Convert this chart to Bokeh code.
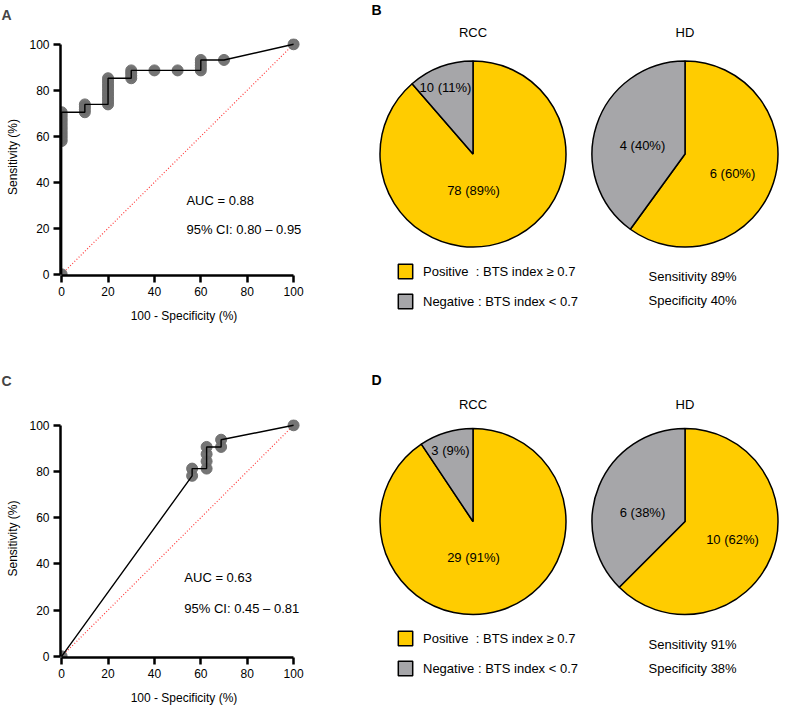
import math
from bokeh.plotting import figure
from bokeh.models import Range1d, FixedTicker, Label, Legend, LegendItem, ColumnDataSource
from bokeh.layouts import row, column
from bokeh.embed import file_html
from bokeh.resources import INLINE
from bokeh.core.properties import value

# ---------------- data ----------------
roc_ticks = [0, 20, 40, 60, 80, 100]

# Panel A: ROC (100 - specificity, sensitivity), RCC n=88 vs HD n=10
roc_a_fpr = [0, 0, 0, 0, 0, 0, 0, 0, 0, 0, 0, 0, 0,
             10, 10, 10, 10,
             20, 20, 20, 20, 20, 20, 20, 20, 20, 20, 20,
             30, 30, 30, 30,
             40, 50,
             60, 60, 60, 60, 60,
             70, 100]
roc_a_sens = [0, 57.95, 59.09, 60.23, 61.36, 62.50, 63.64, 64.77, 65.91, 67.05, 68.18, 69.32, 70.45,
              70.45, 71.59, 72.73, 73.86,
              73.86, 75.00, 76.14, 77.27, 78.41, 79.55, 80.68, 81.82, 82.95, 84.09, 85.23,
              85.23, 86.36, 87.50, 88.64,
              88.64, 88.64,
              88.64, 89.77, 90.91, 92.05, 93.18,
              93.18, 100]
roc_a_auc = "AUC = 0.88"
roc_a_ci = "95% CI: 0.80 \u2013 0.95"

# Panel C: ROC, RCC n=32 vs HD n=16
roc_c_fpr = [0, 56.25, 56.25, 62.5, 62.5, 62.5, 62.5, 68.75, 68.75, 100]
roc_c_sens = [0, 78.13, 81.25, 81.25, 84.38, 87.50, 90.63, 90.63, 93.75, 100]
roc_c_auc = "AUC = 0.63"
roc_c_ci = "95% CI: 0.45 \u2013 0.81"

groups = ["RCC", "HD"]
b_positive = [78, 6]
b_negative = [10, 4]
d_positive = [29, 10]
d_negative = [3, 6]
legend_labels = ["Positive  : BTS index \u2265 0.7", "Negative : BTS index < 0.7"]

# ---------------- style / layout ----------------
FONT = "Liberation Sans"
YELLOW = "#FFCC00"
GREY = "#A6A6A9"
PT = "#6e6e6e"
W_L, W_R = 370, 417
H_T, H_B = 340, 367
XMIN, XMAX = -0.5, 106.0
YMIN, YMAX = -0.5, 102.5
FRAME_W = 247
FRAME_H = 239
LEFT = 60
TXT = "13px"


def roc_panel(fpr, sens, auc_txt, ci_txt, letter, height, top_border, letter_gap, auc_xy):
    p = figure(width=W_L, height=height,
               x_range=Range1d(XMIN, XMAX), y_range=Range1d(YMIN, YMAX),
               output_backend="svg", toolbar_location=None,
               min_border_left=LEFT, min_border_right=W_L - LEFT - FRAME_W,
               min_border_top=top_border, min_border_bottom=height - top_border - FRAME_H)
    p.grid.visible = False
    p.outline_line_color = None
    p.title.text = letter + "\n "
    p.title.text_font = FONT
    p.title.text_font_size = "14px"
    p.title.text_font_style = "bold"
    p.title.text_line_height = letter_gap
    p.title.align = "left"
    p.title.offset = -(LEFT - 1)
    p.line([0, 100], [0, 100], line_color="#ff3b3b", line_dash="1 2", line_width=1.2)
    p.scatter(fpr, sens, size=11, fill_color=PT, line_color=PT, fill_alpha=0.95, line_alpha=0.95)
    p.line(fpr, sens, line_color="black", line_width=1.4)
    for ax in (p.xaxis[0], p.yaxis[0]):
        ax.bounds = (0, 100)
        ax.ticker = FixedTicker(ticks=roc_ticks)
        ax.axis_line_width = 2.5
        ax.axis_line_color = "black"
        ax.major_tick_line_width = 2.5
        ax.major_tick_line_color = "black"
        ax.major_tick_out = 7
        ax.major_tick_in = 0
        ax.minor_tick_line_color = None
        ax.major_label_text_font = FONT
        ax.major_label_text_font_size = "12px"
        ax.major_label_text_color = "black"
        ax.major_label_standoff = 4
        ax.axis_label_text_font = FONT
        ax.axis_label_text_font_size = "12px"
        ax.axis_label_text_font_style = "normal"
        ax.axis_label_text_color = "black"
    p.xaxis[0].axis_label = "100 - Specificity (%)"
    p.xaxis[0].axis_label_standoff = 10
    p.yaxis[0].axis_label = "Sensitivity (%)"
    p.yaxis[0].axis_label_standoff = 6
    for txt, yy in ((auc_txt, auc_xy[1]), (ci_txt, auc_xy[2])):
        p.add_layout(Label(x=auc_xy[0], y=yy, text=txt, text_font=FONT, text_font_size=TXT,
                           text_color="black", text_baseline="middle", text_align="left"))
    return p


def pie_panel(pos, neg, letter, height, cy, title_y, sens_y, spec_y, legend_y, label_xy, letter_y):
    p = figure(width=W_R, height=height, x_range=Range1d(0, W_R), y_range=Range1d(0, height),
               output_backend="svg", toolbar_location=None, min_border=0,
               x_axis_type=None, y_axis_type=None)
    p.grid.visible = False
    p.outline_line_color = None
    cx = [102.5, 314.5]
    tot = [a + b for a, b in zip(pos, neg)]
    neg_end = [math.pi / 2 + 2 * math.pi * n / t for n, t in zip(neg, tot)]
    src_neg = ColumnDataSource(dict(x=cx, y=[cy, cy], s=[math.pi / 2] * 2, e=neg_end))
    src_pos = ColumnDataSource(dict(x=cx, y=[cy, cy], s=neg_end, e=[math.pi / 2 + 2 * math.pi] * 2))
    r_pos = p.wedge(x="x", y="y", radius=93, start_angle="s", end_angle="e", source=src_pos,
                    fill_color=YELLOW, line_color="black", line_width=1.5)
    r_neg = p.wedge(x="x", y="y", radius=93, start_angle="s", end_angle="e", source=src_neg,
                    fill_color=GREY, line_color="black", line_width=1.5)
    txt_kw = dict(text_font=value(FONT), text_font_size=TXT, text_color="black",
                  text_baseline="middle")
    p.text(cx, [title_y, title_y], text=groups, text_align="center", **txt_kw)
    labs = []
    for n, ps, t in zip(neg, pos, tot):
        labs.append(f"{n} ({round(100 * n / t)}%)")
        labs.append(f"{ps} ({round(100 * ps / t)}%)")
    p.text([xy[0] for xy in label_xy], [xy[1] for xy in label_xy], text=labs,
           text_align="center", **txt_kw)
    sens = round(100 * pos[0] / tot[0])
    spec = round(100 * neg[1] / tot[1])
    p.text([278, 278], [sens_y, spec_y], text=[f"Sensitivity {sens}%", f"Specificity {spec}%"],
           text_align="left", **txt_kw)
    leg = Legend(items=[LegendItem(label=legend_labels[0], renderers=[r_pos]),
                        LegendItem(label=legend_labels[1], renderers=[r_neg])],
                 location=(26, legend_y), orientation="vertical",
                 glyph_width=18, glyph_height=18, label_standoff=9, spacing=12,
                 padding=0, margin=0, border_line_color=None, background_fill_alpha=0,
                 label_text_font=FONT, label_text_font_size=TXT, label_height=18,
                 label_text_color="black")
    p.add_layout(leg)
    p.text([1], [letter_y], text=[letter], text_align="left", text_font_style="bold",
           text_font=value(FONT), text_font_size="14px", text_color="black",
           text_baseline="middle")
    return p


pA = roc_panel(roc_a_fpr, roc_a_sens, roc_a_auc, roc_a_ci, "A", H_T, 36, 0.65, (53.8, 32.3, 19.3))
pC = roc_panel(roc_c_fpr, roc_c_sens, roc_c_auc, roc_c_ci, "C", H_B, 79, 1.6, (52.9, 34.0, 20.6))

pB = pie_panel(b_positive, b_negative, "B", H_T, 186.5, 308, 64, 40, 30,
               [(75, 253), (103, 150), (272, 195), (362, 167)], 331)
pD = pie_panel(d_positive, d_negative, "D", H_B, 186, 303, 63, 39, 30,
               [(80, 257), (103, 150), (272, 195), (362, 168)], 328)

layout = row(column(pA, pC), column(pB, pD))
open("out.html", "w").write(file_html(layout, INLINE))
